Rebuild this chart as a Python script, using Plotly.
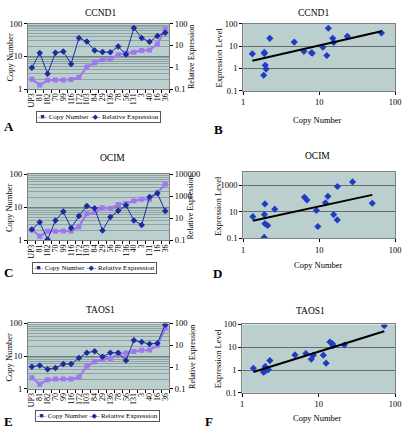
import numpy as np
import plotly.graph_objects as go

# ---------------- data ----------------
cats_ae = ["UP3", "81", "182", "70", "99", "116", "172", "103", "84", "29",
           "136", "78", "56", "131", "3", "40", "16", "36"]
cats_c = ["UP3", "81", "182", "70", "99", "116", "172", "103", "84", "29",
          "56", "78", "136", "40", "3", "131", "16", "36"]

ccnd1_copy = [2.0, 1.32, 1.86, 1.9, 1.9, 1.95, 2.24, 4.7, 6.3, 7.9, 8.1, 11.2, 12.6, 13.2, 15.1, 15.5, 23.5, 66]
ccnd1_expr = [0.94, 4.5, 0.5, 4.6, 5.2, 1.4, 22, 15, 5.8, 5.0, 4.8, 8.8, 3.8, 62, 22, 14.5, 27, 38]

ocim_copy = [2.1, 1.34, 1.89, 1.9, 1.93, 1.93, 2.6, 6.4, 6.9, 9.6, 9.2, 12.1, 13.0, 15.5, 17.3, 17.4, 27.5, 50]
ocim_expr = [0.95, 4.4, 0.12, 6.3, 40, 1.3, 16, 126, 79, 0.8, 13, 48, 148, 6.3, 2.5, 820, 1800, 45]

taos1_copy = [2.2, 1.4, 1.9, 2.0, 2.0, 2.0, 2.3, 4.9, 6.8, 8.0, 8.5, 11.5, 12.5, 14.0, 15.2, 15.4, 21.7, 72]
taos1_expr = [1.05, 1.2, 0.8, 0.9, 1.4, 1.4, 2.6, 4.6, 5.3, 3.0, 4.5, 4.5, 2.0, 17, 14, 11.5, 12.5, 88]

genes = ["CCND1", "OCIM", "TAOS1"]
panel_letters = ["A", "B", "C", "D", "E", "F"]

# ---------------- styling ----------------
W, H = 409, 433
FONT = "Liberation Serif, Times New Roman, DejaVu Serif, serif"
BG = "#bccfcf"
PURPLE = "#9f78ee"
BLUE = "#1c2b9e"
SCAT = "#1f3cc4"
BORDER = "#7f7f7f"


def dx(a, b):
    return [a / W, b / W]


def dy(top, bottom):
    return [1 - bottom / H, 1 - top / H]


def px(x):
    return x / W


def py(y):
    return 1 - y / H


fig = go.Figure()

line_sets = [
    (cats_ae, ccnd1_copy, ccnd1_expr, "x", "y", "y2"),
    (cats_c, ocim_copy, ocim_expr, "x3", "y4", "y5"),
    (cats_ae, taos1_copy, taos1_expr, "x5", "y7", "y8"),
]
for cats, cp, ex, xa, yl, yr in line_sets:
    fig.add_trace(go.Scatter(x=cats, y=cp, xaxis=xa, yaxis=yl, mode="lines+markers",
                             name="Copy Number", showlegend=False,
                             line=dict(color=PURPLE, width=2.2),
                             marker=dict(symbol="square", size=5, color=PURPLE)))
    fig.add_trace(go.Scatter(x=cats, y=ex, xaxis=xa, yaxis=yr, mode="lines+markers",
                             name="Relative Expression", showlegend=False,
                             line=dict(color=BLUE, width=1),
                             marker=dict(symbol="diamond", size=5, color=BLUE)))

scatter_sets = [
    (ccnd1_copy, ccnd1_expr, "x2", "y3"),
    (ocim_copy, ocim_expr, "x4", "y6"),
    (taos1_copy, taos1_expr, "x6", "y9"),
]
for cp, ex, xa, ya in scatter_sets:
    lx = np.log10(cp)
    ly = np.log10(ex)
    k, b = np.polyfit(lx, ly, 1)
    xs = np.array([min(cp), max(cp)])
    ys = 10 ** (k * np.log10(xs) + b)
    fig.add_trace(go.Scatter(x=cp, y=ex, xaxis=xa, yaxis=ya, mode="markers",
                             showlegend=False,
                             marker=dict(symbol="diamond", size=5.5, color=SCAT)))
    fig.add_trace(go.Scatter(x=xs, y=ys, xaxis=xa, yaxis=ya, mode="lines",
                             showlegend=False, line=dict(color="black", width=2)))

tickfont = dict(family=FONT, size=8.5, color="black")


def cat_x(dom, anchor, cats):
    return dict(domain=dom, anchor=anchor, type="category", range=[-0.5, 17.5],
                tickmode="array", tickvals=cats, ticktext=cats,
                tickangle=-90, tickfont=dict(family=FONT, size=8, color="black"),
                showgrid=False, showline=True, linecolor=BORDER, mirror=True,
                ticks="outside", ticklen=3, tickcolor="black", tickson="boundaries",
                zeroline=False)


def left_y(dom, anchor):
    return dict(domain=dom, anchor=anchor, type="log", range=[0, 2],
                tickvals=[1, 10, 100], ticktext=["1", "10", "100"], tickfont=tickfont,
                showgrid=True, gridcolor="#6f7f7f", gridwidth=1,
                minor=dict(dtick="D1", showgrid=True, gridcolor="#8fa3a3", gridwidth=0.6,
                           ticks=""),
                showline=True, linecolor=BORDER, mirror=True, ticks="outside",
                ticklen=3, tickcolor="black", zeroline=False)


def right_y(overlay, anchor, rng, vals, texts):
    return dict(overlaying=overlay, anchor=anchor, side="right", type="log", range=rng,
                tickvals=vals, ticktext=texts, tickfont=tickfont, showgrid=False,
                ticks="outside", ticklen=3, tickcolor="black", zeroline=False,
                showline=False)


def sc_x(dom, anchor):
    return dict(domain=dom, anchor=anchor, type="log", range=[0, 2],
                tickvals=[1, 10, 100], ticktext=["1", "10", "100"], tickfont=tickfont,
                ticklabeloverflow="allow",
                showgrid=False, showline=True, linecolor=BORDER, mirror=True,
                ticks="outside", ticklen=3, tickcolor="black", zeroline=False)


def sc_y(dom, anchor, rng, vals, texts):
    return dict(domain=dom, anchor=anchor, type="log", range=rng,
                tickvals=vals, ticktext=texts, tickfont=tickfont,
                showgrid=True, gridcolor="#6a6a6a", gridwidth=1,
                showline=True, linecolor=BORDER, mirror=True,
                ticks="outside", ticklen=3, tickcolor="black", zeroline=False)


fig.update_layout(
    width=W, height=H, margin=dict(l=0, r=0, t=0, b=0),
    paper_bgcolor="white", plot_bgcolor=BG, showlegend=False,
    font=dict(family=FONT, color="black"),
    xaxis=cat_x(dx(26.5, 170.5), "y", cats_ae),
    yaxis=left_y(dy(19, 86), "x"),
    yaxis2=right_y("y", "x", [-1, 2], [0.1, 1, 10, 100], ["0.1", "1", "10", "100"]),
    xaxis2=sc_x(dx(246, 401), "y3"),
    yaxis3=sc_y(dy(19, 88), "x2", [-1, 2], [0.1, 1, 10, 100], ["0.1", "1", "10", "100"]),
    xaxis3=cat_x(dx(26.5, 170.5), "y4", cats_c),
    yaxis4=left_y(dy(173, 241), "x3"),
    yaxis5=right_y("y4", "x3", [-1, 5], [0.1, 10, 1000, 100000],
                   ["0.1", "10", "1000", "100000"]),
    xaxis4=sc_x(dx(246, 401), "y6"),
    yaxis6=sc_y(dy(171, 239), "x4", [-1, 4], [0.1, 10, 1000], ["0.1", "10", "1000"]),
    xaxis5=cat_x(dx(26.5, 170.5), "y7", cats_ae),
    yaxis7=left_y(dy(326, 393), "x5"),
    yaxis8=right_y("y7", "x5", [-1, 2], [0.1, 1, 10, 100], ["0.1", "1", "10", "100"]),
    xaxis6=sc_x(dx(245, 401), "y9"),
    yaxis9=sc_y(dy(327, 397), "x6", [-1, 2], [0.1, 1, 10, 100], ["0.1", "1", "10", "100"]),
)


def note(x, y, text, size=9, angle=0, **kw):
    fig.add_annotation(x=px(x), y=py(y), xref="paper", yref="paper", text=text,
                       showarrow=False, xanchor="center", yanchor="middle",
                       textangle=angle, font=dict(family=FONT, size=size, color="black"),
                       **kw)


# panel titles
title_pos = [(100, 8, genes[0]), (318, 8, genes[0]), (113, 157, genes[1]),
             (322, 155, genes[1]), (100, 312, genes[2]), (315, 313, genes[2])]
for x, y, t in title_pos:
    note(x, y, t, size=9.5)

# axis titles
for x, y in [(8, 53), (7, 207), (7, 360)]:
    note(x, y, "Copy Number", size=8.5, angle=-90)
for x, y in [(194, 53), (192, 207), (194, 360)]:
    note(x, y, "Relative Expression", size=8, angle=-90)
for x, y in [(221, 54), (221, 206), (220, 362)]:
    note(x, y, "Expression Level", size=8.5, angle=-90)
for x, y in [(322, 118), (323, 266), (322, 423)]:
    note(x, y, "Copy Number", size=8.5)

# panel letters
letter_pos = [(7, 124), (221, 127), (7, 274), (220, 275), (7, 426), (211, 426)]
for (x, y), t in zip(letter_pos, panel_letters):
    note(x, y, "<b>%s</b>" % t, size=13)

# legends (as bordered text boxes)
legend_text = ("<span style='color:%s'>-■-</span> Copy Number "
               "<span style='color:%s'>-◆-</span> Relative Expression") % (BLUE, BLUE)
for x, y in [(98, 114.5), (94, 269), (97, 421)]:
    note(x, y, legend_text, size=7, bordercolor="#555555", borderwidth=1, borderpad=1,
         bgcolor="white")

fig.write_html("out.html", config={"displayModeBar": False},
               post_script="document.body.style.margin='0px';")
